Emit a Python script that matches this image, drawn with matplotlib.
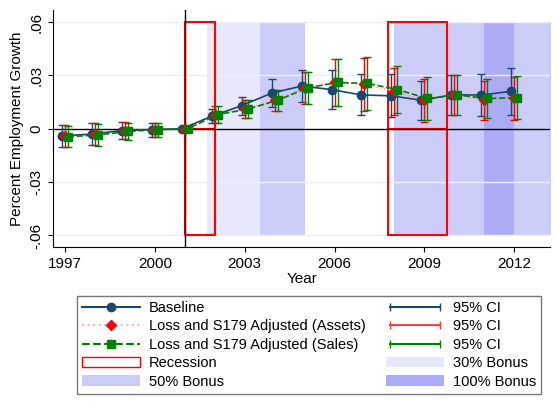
import numpy as np
from matplotlib import pyplot as plt
from matplotlib.patches import Patch
from matplotlib.lines import Line2D
from matplotlib.legend_handler import HandlerLine2D

plt.rcParams['font.family'] = ['Liberation Sans', 'DejaVu Sans']

years = np.arange(1997, 2013)
base = [-0.004, -0.003, -0.001, -0.0005, 0.0, 0.007, 0.013, 0.020, 0.024, 0.022, 0.019, 0.0185, 0.016, 0.019, 0.019, 0.021]
base_ci = [0.006, 0.006, 0.005, 0.004, 0.0, 0.004, 0.005, 0.008, 0.009, 0.011, 0.0115, 0.012, 0.011, 0.011, 0.012, 0.013]
assets = [-0.004, -0.003, -0.001, -0.0005, 0.0, 0.008, 0.011, 0.016, 0.023, 0.026, 0.025, 0.021, 0.016, 0.019, 0.016, 0.017]
assets_ci = [0.006, 0.006, 0.005, 0.004, 0.0, 0.005, 0.005, 0.006, 0.009, 0.013, 0.015, 0.013, 0.012, 0.011, 0.011, 0.012]
sales = [-0.0045, -0.0035, -0.0015, -0.0005, 0.0, 0.008, 0.011, 0.016, 0.023, 0.026, 0.0255, 0.022, 0.017, 0.019, 0.017, 0.0175]
sales_ci = [0.006, 0.006, 0.005, 0.004, 0.0, 0.005, 0.005, 0.006, 0.009, 0.013, 0.015, 0.013, 0.012, 0.011, 0.011, 0.012]

recessions = [(2001.0, 2002.0), (2007.8, 2009.75)]
bonus30 = [(2001.75, 2003.5)]
bonus50 = [(2003.5, 2005.0), (2008.0, 2011.0), (2012.0, 2013.3)]
bonus100 = [(2011.0, 2012.0)]

c_base = '#1a476f'
c30, c50, c100 = '#e8e8fc', '#ccccf8', '#acacf6'

fig = plt.figure(figsize=(5.58, 4.03), dpi=100)
ax = fig.add_axes([0.095, 0.387, 0.891, 0.588])

for spans, col in [(bonus30, c30), (bonus50, c50), (bonus100, c100)]:
    for a, b in spans:
        ax.fill_between([a, b], -0.06, 0.06, color=col, lw=0, zorder=0)
for a, b in recessions:
    for lo, hi in [(0, 0.06), (-0.06, 0)]:
        ax.add_patch(plt.Rectangle((a, lo), b - a, hi - lo, fill=False, ec='red', lw=1.5, zorder=1))

for v in [-0.06, -0.03, 0.03, 0.06]:
    ax.axhline(v, color='#eaf0f4', lw=1, zorder=0.5)
ax.axhline(0, color='black', lw=1, zorder=1.5)
ax.axvline(2001, color='black', lw=1, zorder=1.5)

ax.errorbar(years - 0.1, base, yerr=base_ci, color=c_base, marker='o', ms=6, lw=1.2, capsize=3, elinewidth=1, zorder=3)
ax.errorbar(years + 0.0, assets, yerr=assets_ci, color='red', marker='D', ms=5, ls='none', capsize=3, elinewidth=1, zorder=3)
ax.plot(years, assets, color='#ff9090', ls=':', lw=1, zorder=3)
ax.errorbar(years + 0.1, sales, yerr=sales_ci, color='green', marker='s', ms=6, ls='--', lw=1.2, capsize=3, elinewidth=1, zorder=3)

ax.set_xlim(1996.6, 2013.2)
ax.set_ylim(-0.0665, 0.0667)
ax.set_xticks([1997, 2000, 2003, 2006, 2009, 2012])
ax.set_yticks([-0.06, -0.03, 0, 0.03, 0.06])
ax.set_yticklabels(['-.06', '-.03', '0', '.03', '.06'], rotation=90, va='center')
ax.set_xlabel('Year', fontsize=11, labelpad=1)
ax.set_ylabel('Percent Employment Growth', fontsize=11)
ax.tick_params(labelsize=11)
ax.spines['top'].set_visible(False)
ax.spines['right'].set_visible(False)

ci_handles = [Line2D([], [], color=c, marker='|', ms=6) for c in [c_base, '#ff4040', 'green']]
handles = [
    Line2D([], [], color=c_base, marker='o', ms=6),
    Line2D([], [], color='#ffb0b0', mec='red', mfc='red', marker='D', ms=5, ls=':'),
    Line2D([], [], color='green', marker='s', ms=6, ls='--'),
    Patch(fc='white', ec='red'),
    Patch(fc=c50, ec='none'),
] + ci_handles + [
    Patch(fc=c30, ec='none'),
    Patch(fc=c100, ec='none'),
]
labels = ['Baseline', 'Loss and S179 Adjusted (Assets)', 'Loss and S179 Adjusted (Sales)', 'Recession', '50% Bonus',
          '95% CI', '95% CI', '95% CI', '30% Bonus', '100% Bonus']
leg = fig.legend(handles, labels, ncol=2, loc='lower left', bbox_to_anchor=(0.125, 0.005, 0.858, 0.265),
                 mode='expand', fontsize=10.5, fancybox=False, edgecolor='#555555', handlelength=4.0,
                 handletextpad=0.6, labelspacing=0.3, borderpad=0.35, columnspacing=1.0,
                 handler_map={h: HandlerLine2D(numpoints=2) for h in ci_handles})
leg.get_frame().set_linewidth(1)

fig.savefig('out.png', dpi=100)
